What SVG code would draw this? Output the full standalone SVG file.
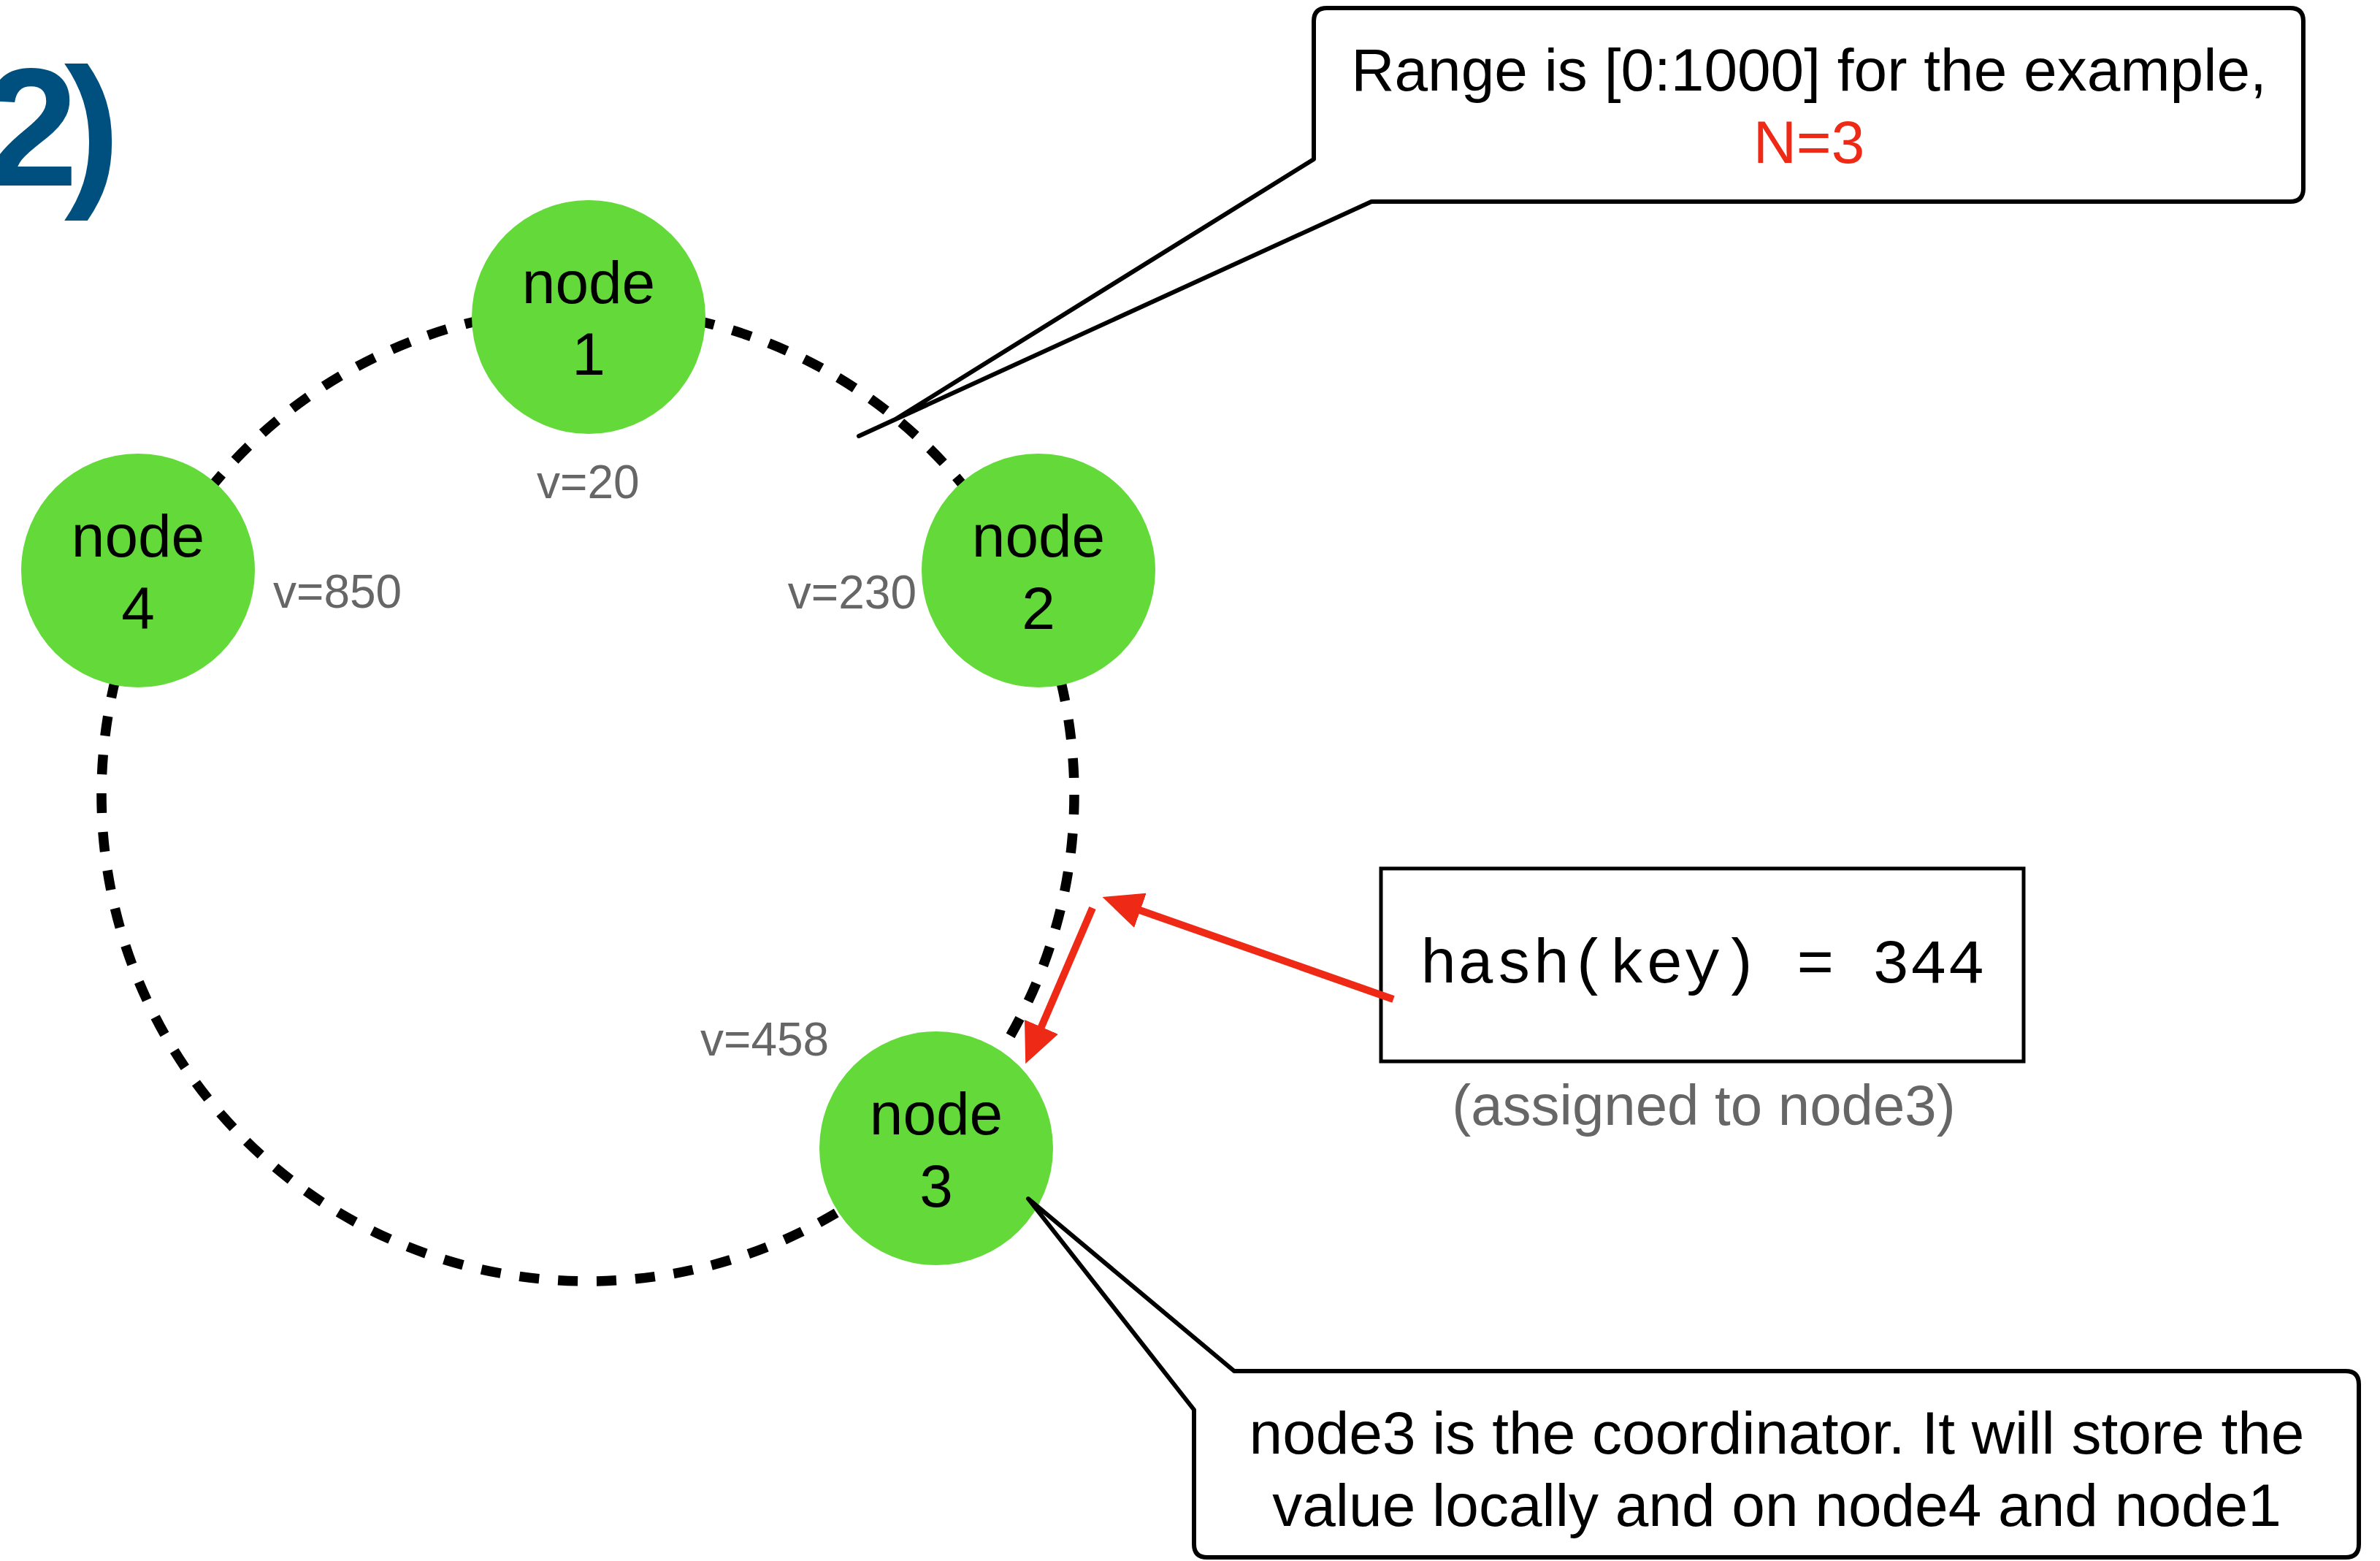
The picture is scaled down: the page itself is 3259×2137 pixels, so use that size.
<svg xmlns="http://www.w3.org/2000/svg" width="3259" height="2137" viewBox="0 0 3259 2137">
<style>
.ring{fill:none;stroke:#000;stroke-width:13.5;stroke-dasharray:27 26}
.node circle{fill:#64d93a}
.lbl{font-family:"Liberation Sans",Arial,sans-serif;font-size:82px;fill:#000;text-anchor:middle}
.val{font-family:"Liberation Sans",Arial,sans-serif;font-size:64px;fill:#666}
.callout{fill:#fff;stroke:#000;stroke-width:6;stroke-linejoin:round}
.arrow{fill:none;stroke:#ee2a16;stroke-width:10;marker-end:url(#ah)}
.note{font-family:"Liberation Sans",Arial,sans-serif;font-size:78px;fill:#666;text-anchor:middle}
</style>
<defs>
<marker id="ah" viewBox="0 0 11 10" markerWidth="5.5" markerHeight="5" refX="2" refY="5" orient="auto" markerUnits="strokeWidth">
<path d="M0,0 L11,5 L0,10 Z" fill="#ee2a16"/>
</marker>
</defs>
<rect width="3259" height="2137" fill="#fff"/>
<text x="-21 88" y="254" font-family="Liberation Sans,Arial,sans-serif" font-weight="bold" font-size="230" fill="#00507f">2)</text>
<circle class="ring" cx="805" cy="1088" r="666"/>
<g id="node1" class="node"><circle cx="806" cy="434" r="160"/><text class="lbl" x="806" y="415">node</text><text class="lbl" x="806" y="513">1</text></g>
<g id="node2" class="node"><circle cx="1422" cy="781" r="160"/><text class="lbl" x="1422" y="762">node</text><text class="lbl" x="1422" y="861">2</text></g>
<g id="node4" class="node"><circle cx="189" cy="781" r="160"/><text class="lbl" x="189" y="762">node</text><text class="lbl" x="189" y="861">4</text></g>
<g id="node3" class="node"><circle cx="1282" cy="1572" r="160"/><text class="lbl" x="1282" y="1553">node</text><text class="lbl" x="1282" y="1652">3</text></g>
<g id="values">
<text class="val" x="735" y="682">v=20</text>
<text class="val" x="1255" y="833" text-anchor="end">v=230</text>
<text class="val" x="374" y="832">v=850</text>
<text class="val" x="959" y="1445">v=458</text>
</g>
<g id="hashbox">
<rect x="1891" y="1189" width="880" height="264" fill="#fff" stroke="#000" stroke-width="5"/>
<text x="2331" y="1345" font-family="Liberation Mono,Courier New,monospace" font-size="86" text-anchor="middle" fill="#000">hash(key) = 344</text>
<text class="note" x="2333" y="1540">(assigned to node3)</text>
</g>
<g id="connectors">
<path class="arrow" d="M1908,1368 L1552,1243"/>
<path class="arrow" d="M1496,1243 L1422,1415"/>
</g>
<g id="callout-range">
<path class="callout" d="M1817,11 H3136 Q3154,11 3154,29 V258 Q3154,276 3136,276 H1878 L1176,597 L1226,574 L1799,218 V29 Q1799,11 1817,11 Z"/>
<text class="lbl" x="2477" y="124">Range is [0:1000] for the example,</text>
<text class="lbl" x="2477" y="223" style="fill:#ee2a16">N=3</text>
</g>
<g id="callout-coordinator">
<path class="callout" d="M1690,1877 H3212 Q3230,1877 3230,1895 V2114 Q3230,2132 3212,2132 H1653 Q1635,2132 1635,2114 V1930 L1408,1641 Z"/>
<text class="lbl" x="2433" y="1990">node3 is the coordinator. It will store the</text>
<text class="lbl" x="2433" y="2089">value locally and on node4 and node1</text>
</g>
</svg>
